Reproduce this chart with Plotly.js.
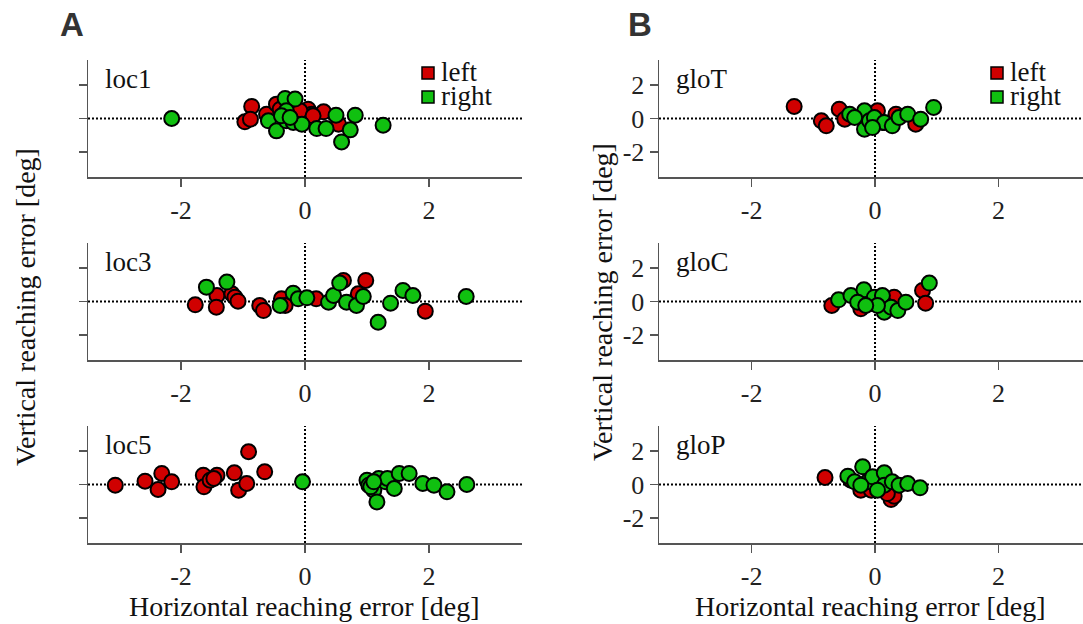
<!DOCTYPE html>
<html>
<head>
<meta charset="utf-8">
<script src="https://cdn.plot.ly/plotly-3.0.1.min.js"></script>
<style>html,body{margin:0;padding:0;background:#fff;}#chart{width:1083px;height:624px;}</style>
</head>
<body>
<div id="chart"></div>
<script>
// ---- data (horizontal, vertical reaching error in deg) ----
const panelNames = ["loc1", "loc3", "loc5", "gloT", "gloC", "gloP"];
const seriesNames = ["left", "right"];
const tickValues = [-2, 0, 2];
const tickLabels = ["-2", "0", "2"];

const loc1LeftX = [-0.86, -0.97, -0.88, -0.62, -0.46, -0.40, 0.05, 0.11, 0.30, 0.54, -0.08, 0.13];
const loc1LeftY = [0.72, -0.20, -0.04, 0.26, 0.86, 0.56, 0.56, 0.26, 0.40, -0.34, 0.46, 0.16];
const loc1RightX = [-2.15, -0.32, -0.16, -0.59, -0.46, -0.30, -0.30, -0.38, -0.19, -0.05, -0.24, 0.19, 0.34, 0.50, 0.81, 0.73, 0.59, 1.26];
const loc1RightY = [0.00, 1.20, 1.16, -0.14, -0.74, 0.46, -0.14, 0.16, -0.24, -0.34, 0.06, -0.60, -0.60, 0.20, 0.20, -0.68, -1.40, -0.40];

const loc3LeftX = [-1.77, -1.42, -1.43, -1.18, -1.13, -1.08, -0.73, -0.67, -0.38, -0.32, 0.18, 0.62, 0.86, 0.98, 1.94];
const loc3LeftY = [-0.20, 0.36, -0.34, 0.46, 0.26, 0.02, -0.24, -0.54, 0.16, -0.24, 0.16, 1.26, 0.46, 1.26, -0.58];
const loc3RightX = [-1.59, -1.26, -0.40, -0.19, -0.11, 0.03, 0.38, 0.46, 0.56, 0.67, 0.83, 0.94, 1.18, 1.38, 1.58, 1.74, 2.60];
const loc3RightY = [0.86, 1.16, -0.24, 0.50, 0.16, 0.22, -0.04, 0.36, 1.10, -0.04, -0.24, 0.30, -1.24, -0.10, 0.66, 0.36, 0.30];

const loc5LeftX = [-3.06, -2.58, -2.37, -2.31, -2.15, -1.64, -1.63, -1.53, -1.42, -1.47, -1.14, -1.07, -0.94, -0.91, -0.65];
const loc5LeftY = [-0.04, 0.20, -0.30, 0.66, 0.16, 0.56, -0.14, 0.26, 0.56, 0.36, 0.70, -0.34, 0.06, 1.96, 0.76];
const loc5RightX = [-0.04, 1.00, 1.03, 1.11, 1.16, 1.19, 1.30, 1.33, 1.44, 1.52, 1.68, 1.90, 2.08, 2.29, 2.61, 1.06, 1.11];
const loc5RightY = [0.16, 0.26, -0.04, -0.34, -1.04, 0.36, 0.16, 0.36, -0.24, 0.66, 0.66, 0.06, -0.04, -0.44, 0.00, -0.14, 0.16];

const gloTLeftX = [-1.31, -0.87, -0.79, -0.58, -0.49, -0.15, 0.04, 0.12, 0.34, 0.66];
const gloTLeftY = [0.72, -0.14, -0.44, 0.56, -0.04, -0.04, 0.46, -0.24, 0.26, -0.34];
const gloTRightX = [-0.41, -0.17, -0.17, -0.09, -0.01, 0.15, 0.28, 0.39, 0.53, 0.74, 0.95, -0.04, -0.33];
const gloTRightY = [0.26, 0.46, -0.64, -0.14, 0.06, -0.24, -0.44, 0.06, 0.26, -0.04, 0.66, -0.54, 0.06];

const gloCLeftX = [-0.70, -0.23, -0.09, 0.31, 0.77, 0.82, 0.15];
const gloCLeftY = [-0.24, -0.44, -0.14, 0.26, 0.66, -0.10, -0.14];
const gloCRightX = [-0.59, -0.39, -0.18, -0.28, -0.01, 0.12, 0.15, 0.26, 0.37, 0.50, 0.88, 0.04, -0.15];
const gloCRightY = [0.10, 0.36, 0.70, -0.04, 0.26, 0.36, -0.64, -0.34, -0.54, -0.04, 1.10, -0.24, -0.24];

const gloPLeftX = [-0.81, -0.23, -0.06, 0.26, 0.31, 0.20, -0.39];
const gloPLeftY = [0.42, -0.34, -0.34, -0.90, -0.70, -0.54, 0.26];
const gloPRightX = [-0.44, -0.33, -0.20, -0.12, -0.04, 0.15, 0.15, 0.28, 0.39, 0.53, 0.73, -0.23, 0.04];
const gloPRightY = [0.50, 0.16, 1.06, 0.16, 0.46, 0.70, -0.04, 0.16, -0.04, 0.06, -0.20, -0.04, -0.34];

const leftXs = [loc1LeftX, loc3LeftX, loc5LeftX, gloTLeftX, gloCLeftX, gloPLeftX];
const leftYs = [loc1LeftY, loc3LeftY, loc5LeftY, gloTLeftY, gloCLeftY, gloPLeftY];
const rightXs = [loc1RightX, loc3RightX, loc5RightX, gloTRightX, gloCRightX, gloPRightX];
const rightYs = [loc1RightY, loc3RightY, loc5RightY, gloTRightY, gloCRightY, gloPRightY];

// ---- styling / layout ----
const W = 1083, H = 624;
const RED = "#d00000", GREEN = "#10c010";
const AXC = "#555555";
const SERIF = "Liberation Serif, Times New Roman, serif";
const px = v => v / W;
const py = v => 1 - v / H;
const colDom = [[px(88), px(522)], [px(659), 1]];
const colRange = [[-3.5, 3.5], [-3.5, 3.37]];
const rowDom = [[py(177), py(60)], [py(360), py(243)], [py(543), py(426)]];

const traces = [];
const layout = {
  width: W, height: H,
  margin: {l: 0, r: 0, t: 0, b: 0},
  paper_bgcolor: "#fff", plot_bgcolor: "#fff",
  showlegend: false,
  shapes: [], annotations: [],
  font: {family: SERIF, color: "#222"}
};

for (let i = 0; i < 6; i++) {
  const col = i < 3 ? 0 : 1;
  const row = i % 3;
  const sfx = i === 0 ? "" : String(i + 1);
  const xa = "x" + sfx, ya = "y" + sfx;
  layout["xaxis" + sfx] = {
    domain: colDom[col], anchor: ya, range: colRange[col],
    showgrid: false, zeroline: false, showline: true, linecolor: AXC, linewidth: 1.5,
    ticks: "outside", ticklen: 8, tickwidth: 1.5, tickcolor: AXC,
    tickvals: tickValues, ticktext: tickLabels, ticklabelstandoff: 1,
    tickfont: {family: SERIF, size: 26, color: "#222"}, fixedrange: true
  };
  layout["yaxis" + sfx] = {
    domain: rowDom[row], anchor: xa, range: [-3.5, 3.5],
    showgrid: false, zeroline: false, showline: true, linecolor: AXC, linewidth: 1.5,
    ticks: "outside", ticklen: 8, tickwidth: 1.5, tickcolor: AXC,
    tickvals: tickValues, ticktext: tickLabels, showticklabels: col === 1,
    tickfont: {family: SERIF, size: 26, color: "#222"}, fixedrange: true
  };
  traces.push({
    type: "scatter", mode: "markers", x: leftXs[i], y: leftYs[i], xaxis: xa, yaxis: ya,
    name: seriesNames[0],
    marker: {size: 15, color: RED, line: {color: "#000", width: 2}}
  });
  traces.push({
    type: "scatter", mode: "markers", x: rightXs[i], y: rightYs[i], xaxis: xa, yaxis: ya,
    name: seriesNames[1],
    marker: {size: 15, color: GREEN, line: {color: "#000", width: 2}}
  });
  // dotted zero lines
  layout.shapes.push({type: "line", xref: xa, yref: ya + " domain", x0: 0, x1: 0, y0: 0, y1: 1,
    line: {color: "#000", width: 2, dash: "2px,2px"}, layer: "below"});
  layout.shapes.push({type: "line", xref: xa + " domain", yref: ya, x0: 0, x1: 1, y0: 0, y1: 0,
    line: {color: "#000", width: 2, dash: "2px,2px"}, layer: "below"});
  // panel label
  layout.annotations.push({xref: xa + " domain", yref: ya + " domain", x: 0.035, y: 0.98,
    xanchor: "left", yanchor: "top", showarrow: false, text: panelNames[i],
    font: {family: SERIF, size: 27, color: "#111"}});
}

// legend (one per column): coloured square + real text
const legendPos = [[428, 73], [997, 73]];
const legendGap = 24;
legendPos.forEach(([lx, ly]) => {
  [RED, GREEN].forEach((c, k) => {
    const cy = ly + k * legendGap;
    layout.shapes.push({type: "rect", xref: "paper", yref: "paper",
      x0: px(lx - 6), x1: px(lx + 6), y0: py(cy + 6), y1: py(cy - 6),
      fillcolor: c, line: {color: "#000", width: 1.5}});
    layout.annotations.push({xref: "paper", yref: "paper", x: px(lx + 11), y: py(cy - 1),
      xanchor: "left", yanchor: "middle", showarrow: false, text: seriesNames[k],
      font: {family: SERIF, size: 27, color: "#111"}});
  });
});

// axis titles & panel letters
const titleFont = {family: SERIF, size: 28, color: "#111"};
layout.annotations.push(
  {xref: "paper", yref: "paper", x: px(304), y: py(606), xanchor: "center", yanchor: "middle",
   showarrow: false, text: "Horizontal reaching error [deg]", font: titleFont},
  {xref: "paper", yref: "paper", x: px(870), y: py(606), xanchor: "center", yanchor: "middle",
   showarrow: false, text: "Horizontal reaching error [deg]", font: titleFont},
  {xref: "paper", yref: "paper", x: px(25), y: py(307), xanchor: "center", yanchor: "middle",
   showarrow: false, textangle: -90, text: "Vertical reaching error [deg]", font: titleFont},
  {xref: "paper", yref: "paper", x: px(602), y: py(302), xanchor: "center", yanchor: "middle",
   showarrow: false, textangle: -90, text: "Vertical reaching error [deg]", font: titleFont},
  {xref: "paper", yref: "paper", x: px(72), y: py(25), xanchor: "center", yanchor: "middle",
   showarrow: false, text: "<b>A</b>",
   font: {family: "Liberation Sans, Arial, sans-serif", size: 33, color: "#333"}},
  {xref: "paper", yref: "paper", x: px(640), y: py(25), xanchor: "center", yanchor: "middle",
   showarrow: false, text: "<b>B</b>",
   font: {family: "Liberation Sans, Arial, sans-serif", size: 33, color: "#333"}}
);

Plotly.newPlot("chart", traces, layout, {staticPlot: true, displayModeBar: false});
</script>
</body>
</html>
